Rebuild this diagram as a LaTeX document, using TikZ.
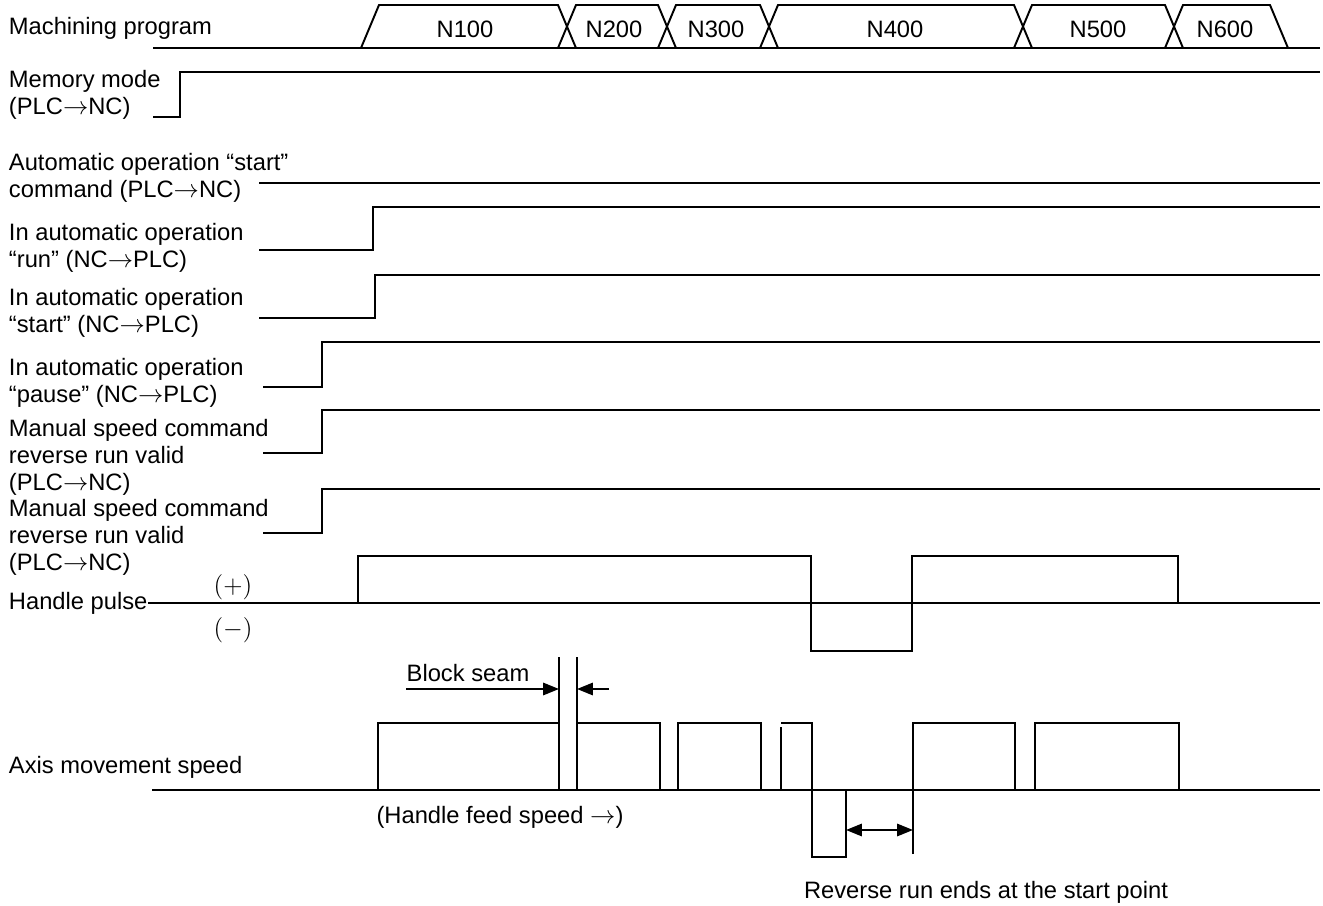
\documentclass[tikz,border=0pt]{standalone}
\usepackage{fontspec}
\setmainfont{Liberation Sans}
\usetikzlibrary{arrows.meta}

\newcommand{\toarr}{\ensuremath{\rightarrow}}

\begin{document}
\begin{tikzpicture}[x=0.02cm, y=-0.02cm, line width=1.1pt,
    every node/.style={inner sep=0pt, font=\fontsize{13.5pt}{15.3pt}\selectfont},
    lbl/.style={anchor=west, align=left},
    tip/.style={-{Triangle[length=9pt,width=7pt]}}]
    \useasboundingbox (0,0) rectangle (1323,906);

    % signal names
    \node (prog) at (8,28) [lbl] {Machining program};
    \node (mem) at (8,95) [lbl] {Memory mode\\(PLC\toarr NC)};
    \node (stcmd) at (8,178) [lbl] {Automatic operation “start”\\command (PLC\toarr NC)};
    \node (run) at (8,248) [lbl] {In automatic operation\\“run” (NC\toarr PLC)};
    \node (start) at (8,313) [lbl] {In automatic operation\\“start” (NC\toarr PLC)};
    \node (pause) at (8,383) [lbl] {In automatic operation\\“pause” (NC\toarr PLC)};
    \node (rev1) at (8,457) [lbl] {Manual speed command\\reverse run valid\\(PLC\toarr NC)};
    \node (rev2) at (8,537) [lbl] {Manual speed command\\reverse run valid\\(PLC\toarr NC)};
    \node (hp) at (8,603) [lbl] {Handle pulse};
    \node (axis) at (8,767) [lbl] {Axis movement speed};
    \node (plus) at (233,587) {$(+)$};
    \node (minus) at (233,630) {$(-)$};

    % machining program blocks
    \draw (153,48) -- (361,48);
    \draw (361,48) -- (379,5) -- (558,5) -- (576,48) -- cycle;
    \draw (558,48) -- (576,5) -- (658,5) -- (676,48) -- cycle;
    \draw (658,48) -- (676,5) -- (760,5) -- (778,48) -- cycle;
    \draw (760,48) -- (778,5) -- (1014,5) -- (1032,48) -- cycle;
    \draw (1014,48) -- (1032,5) -- (1165,5) -- (1183,48) -- cycle;
    \draw (1165,48) -- (1183,5) -- (1270,5) -- (1288,48) -- cycle;
    \draw (1288,48) -- (1320,48);
    \node (n100) at (465,29) {N100};
    \node (n200) at (614,29) {N200};
    \node (n300) at (716,29) {N300};
    \node (n400) at (895,29) {N400};
    \node (n500) at (1098,29) {N500};
    \node (n600) at (1225,29) {N600};

    % levels
    \draw (153,117) -- (180,117) -- (180,72) -- (1320,72);
    \draw (259,183) -- (1320,183);
    \draw (259,250) -- (373,250) -- (373,207) -- (1320,207);
    \draw (259,318) -- (375,318) -- (375,275) -- (1320,275);
    \draw (263,387) -- (322,387) -- (322,342) -- (1320,342);
    \draw (263,453) -- (322,453) -- (322,410) -- (1320,410);
    \draw (263,533) -- (322,533) -- (322,489) -- (1320,489);

    % handle pulse
    \draw (hp.east) -- (1320,603);
    \draw (358,603) -- (358,556) -- (811,556) -- (811,651) -- (912,651) -- (912,556) -- (1178,556) -- (1178,603);

    % axis movement speed
    \draw (152,790) -- (1320,790);
    \draw (378,790) -- (378,723) -- (559,723);
    \draw (559,657) -- (559,790);
    \draw (577,657) -- (577,790);
    \draw (577,723) -- (660,723) -- (660,790);
    \draw (678,790) -- (678,723) -- (761,723) -- (761,790);
    \draw (781,790) -- (781,727);
    \draw (781,723) -- (812,723) -- (812,857) -- (846,857) -- (846,790);
    \draw (913,854) -- (913,723) -- (1015,723) -- (1015,790);
    \draw (1035,790) -- (1035,723) -- (1179,723) -- (1179,790);

    \node (seam) at (468,673) {Block seam};
    \coordinate (seamA) at (406,689);
    \coordinate (seamB) at (559,689);
    \coordinate (seamC) at (609,689);
    \coordinate (seamD) at (577,689);
    \draw[tip] (seamA) -- (seamB);
    \draw[tip] (seamC) -- (seamD);

    \node (feed) at (500,817) {(Handle feed speed \toarr)};
    \coordinate (backA) at (846,830);
    \coordinate (backB) at (913,830);
    \draw[{Triangle[length=9pt,width=7pt]}-{Triangle[length=9pt,width=7pt]}] (backA) -- (backB);
    \node (ends) at (986,892) {Reverse run ends at the start point};
\end{tikzpicture}
\end{document}
